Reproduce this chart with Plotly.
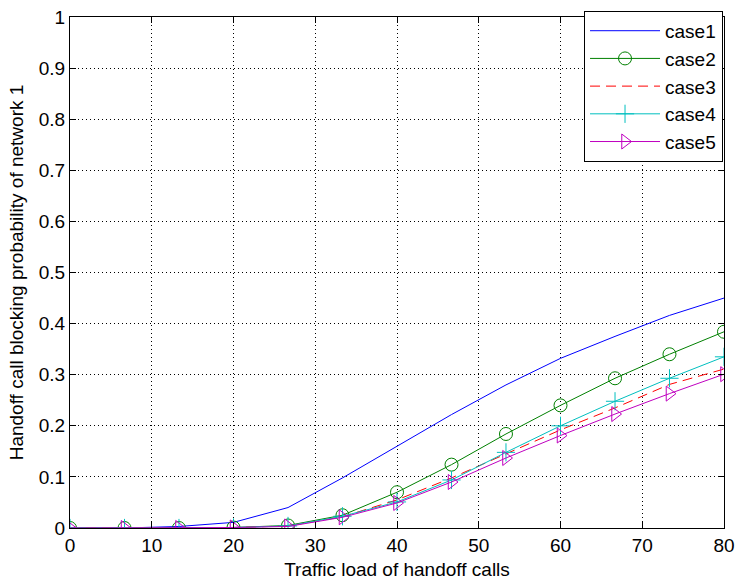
import plotly.graph_objects as go

x_load = [0, 6.67, 13.33, 20, 26.67, 33.33, 40, 46.67, 53.33, 60, 66.67, 73.33, 80]
case1 = [0, 0, 0.003, 0.011, 0.040, 0.098, 0.160, 0.222, 0.280, 0.332, 0.375, 0.416, 0.450]
case2 = [0, 0, 0, 0.001, 0.005, 0.025, 0.070, 0.124, 0.184, 0.240, 0.293, 0.340, 0.384]
case3 = [0, 0, 0, 0.001, 0.004, 0.022, 0.055, 0.098, 0.145, 0.192, 0.235, 0.281, 0.311]
case4 = [0, 0, 0, 0.001, 0.004, 0.023, 0.051, 0.094, 0.148, 0.200, 0.248, 0.293, 0.335]
case5 = [0, 0, 0, 0.001, 0.003, 0.021, 0.049, 0.090, 0.137, 0.181, 0.223, 0.263, 0.301]
x_ticks = [0, 10, 20, 30, 40, 50, 60, 70, 80]
y_ticks = [0, 0.1, 0.2, 0.3, 0.4, 0.5, 0.6, 0.7, 0.8, 0.9, 1]
y_tick_text = ["0", "0.1", "0.2", "0.3", "0.4", "0.5", "0.6", "0.7", "0.8", "0.9", "1"]

FONT = "Liberation Sans, Arial, sans-serif"
FS = 19

fig = go.Figure()
fig.add_trace(go.Scatter(x=x_load, y=case1, name="case1", mode="lines",
                         line=dict(color="rgb(0,0,255)", width=1)))
fig.add_trace(go.Scatter(x=x_load, y=case2, name="case2", mode="lines+markers",
                         line=dict(color="rgb(0,128,0)", width=1),
                         marker=dict(symbol="circle-open", size=13, color="rgb(0,128,0)",
                                     line=dict(width=1))))
fig.add_trace(go.Scatter(x=x_load, y=case3, name="case3", mode="lines",
                         line=dict(color="rgb(255,0,0)", width=1, dash="10px,6px")))
fig.add_trace(go.Scatter(x=x_load, y=case4, name="case4", mode="lines+markers",
                         line=dict(color="rgb(0,191,191)", width=1),
                         marker=dict(symbol="cross-thin-open", size=13, color="rgb(0,191,191)",
                                     line=dict(width=1, color="rgb(0,191,191)"))))
fig.add_trace(go.Scatter(x=x_load, y=case5, name="case5", mode="lines+markers",
                         line=dict(color="rgb(191,0,191)", width=1),
                         marker=dict(symbol="triangle-right-open", size=13, color="rgb(191,0,191)",
                                     line=dict(width=1))))

axis_common = dict(
    showline=True, linecolor="black", linewidth=1, mirror="ticks",
    ticks="inside", ticklen=6, tickcolor="black",
    showgrid=True, gridcolor="black", gridwidth=1, griddash="1px,3px",
    zeroline=False, automargin=False,
    tickfont=dict(family=FONT, size=FS, color="black"),
)

fig.update_layout(
    width=735, height=586,
    margin=dict(l=70, r=11, t=14, b=58),
    paper_bgcolor="white", plot_bgcolor="white",
    font=dict(family=FONT, size=FS, color="black"),
    hovermode=False,
    xaxis=dict(range=[0, 80], tickvals=x_ticks,
               title=dict(text="Traffic load of handoff calls", standoff=7,
                          font=dict(family=FONT, size=FS)),
               **axis_common),
    yaxis=dict(range=[0, 1], tickvals=y_ticks, ticktext=y_tick_text,
               title=dict(text="Handoff call blocking probability of network 1", standoff=10,
                          font=dict(family=FONT, size=FS)),
               **axis_common),
    legend=dict(x=0.9985, y=1.012, xanchor="right", yanchor="top",
                bgcolor="white", bordercolor="black", borderwidth=1,
                font=dict(family=FONT, size=FS), itemwidth=70,
                tracegroupgap=0),
    showlegend=True,
)

fig.write_html("out.html",
               config={"displayModeBar": False},
               post_script="document.body.style.margin='0px';document.body.style.overflow='hidden';")
